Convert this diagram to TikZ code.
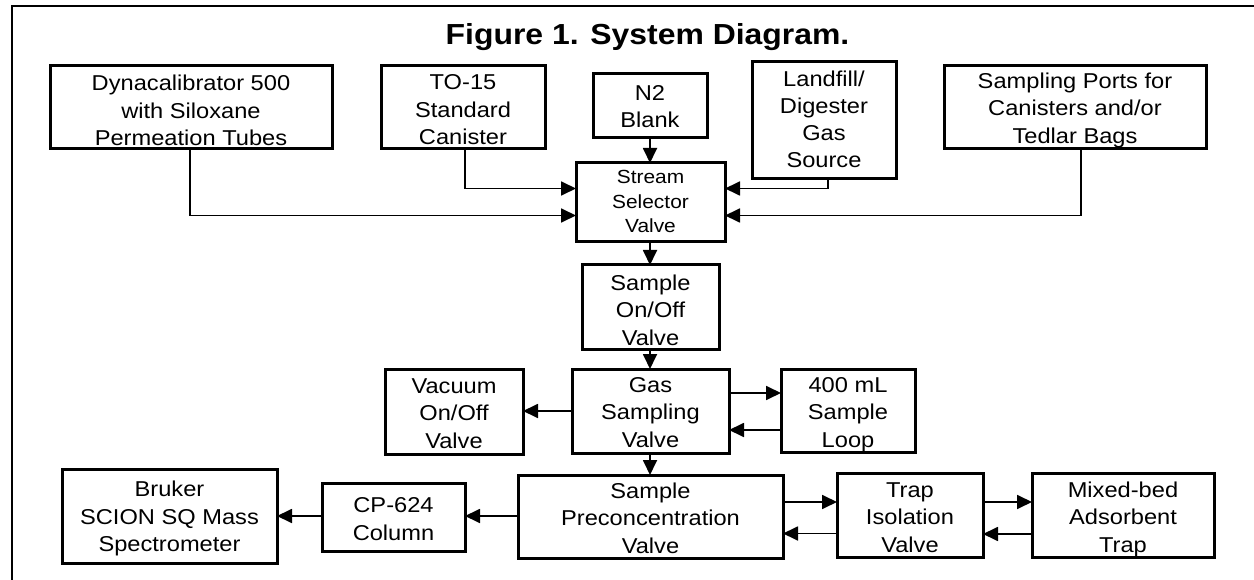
\documentclass[tikz,border=0pt]{standalone}
\usepackage{fontspec}
\setmainfont{Liberation Sans}[FakeStretch=1.1]
\usetikzlibrary{arrows.meta}
\tikzset{
  box/.style={draw=black, line width=3pt, inner sep=0pt, outer sep=0pt},
  txt/.style={align=center, anchor=base, inner sep=0pt, font=\fontsize{21.5}{27.5}\selectfont},
  smalltxt/.style={align=center, anchor=base, inner sep=0pt, font=\fontsize{19}{24.5}\selectfont},
  conn/.style={line width=1.8pt, -{Triangle[length=15pt,width=14pt]}},
  frame/.style={line width=2pt}
}
\begin{document}
\begin{tikzpicture}[x=1pt,y=-1pt]
\useasboundingbox (0,0) rectangle (1254,580);
% frame
\coordinate (fbl) at (11.5,581);
\coordinate (ftl) at (11.5,6);
\coordinate (ftr) at (1255,6);
\draw[frame] (fbl) -- (ftl) -- (ftr);
% title
\node[anchor=base, inner sep=0pt, font=\bfseries\fontsize{29}{34}\selectfont] (title) at (647.5,45) {Figure 1. System Diagram.};
% boxes
\node[box, minimum width=282pt, minimum height=83pt] (dyna) at (191,107.5) {};
\node[box, minimum width=164pt, minimum height=83pt] (to15) at (463,107.5) {};
\node[box, minimum width=114pt, minimum height=64pt] (n2) at (650,106) {};
\node[box, minimum width=144pt, minimum height=117pt] (land) at (824,120.5) {};
\node[box, minimum width=262pt, minimum height=83pt] (ports) at (1075,107.5) {};
\node[box, minimum width=149pt, minimum height=79pt] (stream) at (650.5,202.5) {};
\node[box, minimum width=137pt, minimum height=84pt] (onoff) at (650.5,307) {};
\node[box, minimum width=157pt, minimum height=84pt] (gas) at (650.5,411) {};
\node[box, minimum width=138pt, minimum height=85pt] (vac) at (454,411.5) {};
\node[box, minimum width=134pt, minimum height=83pt] (loop) at (848,410.5) {};
\node[box, minimum width=265pt, minimum height=83pt] (pre) at (650.5,516.5) {};
\node[box, minimum width=146pt, minimum height=84pt] (trap) at (910,515) {};
\node[box, minimum width=182pt, minimum height=84pt] (mixed) at (1123,515) {};
\node[box, minimum width=143pt, minimum height=68pt] (cp) at (393.5,517) {};
\node[box, minimum width=215pt, minimum height=94pt] (bruker) at (169.5,516) {};
% texts (anchored at the baseline of the last line)
\node[txt] (dynat) at (191,145.7) {Dynacalibrator 500\\with Siloxane\\Permeation Tubes};
\node[txt] (to15t) at (463,145) {TO-15\\Standard\\Canister};
\node[txt] (n2t) at (650,128) {N2\\Blank};
\node[txt, font=\fontsize{21.5}{27}\selectfont] (landt) at (824,168) {Landfill/\\Digester\\Gas\\Source};
\node[txt] (portst) at (1075,143.5) {Sampling Ports for\\Canisters and/or\\Tedlar Bags};
\node[smalltxt] (streamt) at (650.5,233) {Stream\\Selector\\Valve};
\node[txt] (onofft) at (650.5,345) {Sample\\On/Off\\Valve};
\node[txt] (gast) at (650.5,447) {Gas\\Sampling\\Valve};
\node[txt] (vact) at (454,448) {Vacuum\\On/Off\\Valve};
\node[txt] (loopt) at (848,447) {400 mL\\Sample\\Loop};
\node[txt] (pret) at (650.5,553.3) {Sample\\Preconcentration\\Valve};
\node[txt] (trapt) at (910,552) {Trap\\Isolation\\Valve};
\node[txt] (mixedt) at (1123,552) {Mixed-bed\\Adsorbent\\Trap};
\node[txt] (cpt) at (393.5,540) {CP-624\\Column};
\node[txt] (brukert) at (169.5,551.7) {Bruker\\SCION SQ Mass\\Spectrometer};
% connectors
\draw[conn] (dyna.south -| 190,0) |- (stream.west |- 0,215.5);
\draw[conn] (to15.south -| 465,0) |- (stream.west |- 0,188.5);
\draw[conn] (n2.south) -- (stream.north -| n2.south);
\draw[conn] (land.south -| 828,0) |- (stream.east |- 0,188.5);
\draw[conn] (ports.south -| 1081,0) |- (stream.east |- 0,215.5);
\draw[conn] (stream.south -| 650,0) -- (onoff.north -| 650,0);
\draw[conn] (onoff.south -| 650,0) -- (gas.north -| 650,0);
\draw[conn] (gas.west |- 0,411) -- (vac.east |- 0,411);
\draw[conn] (gas.east |- 0,393) -- (loop.west |- 0,393);
\draw[conn] (loop.west |- 0,430) -- (gas.east |- 0,430);
\draw[conn] (gas.south -| 650,0) -- (pre.north -| 650,0);
\draw[conn] (pre.east |- 0,502) -- (trap.west |- 0,502);
\draw[conn] (trap.west |- 0,533.5) -- (pre.east |- 0,533.5);
\draw[conn] (trap.east |- 0,502) -- (mixed.west |- 0,502);
\draw[conn] (mixed.west |- 0,534) -- (trap.east |- 0,534);
\draw[conn] (pre.west |- 0,516) -- (cp.east |- 0,516);
\draw[conn] (cp.west |- 0,516) -- (bruker.east |- 0,516);
\end{tikzpicture}
\end{document}
